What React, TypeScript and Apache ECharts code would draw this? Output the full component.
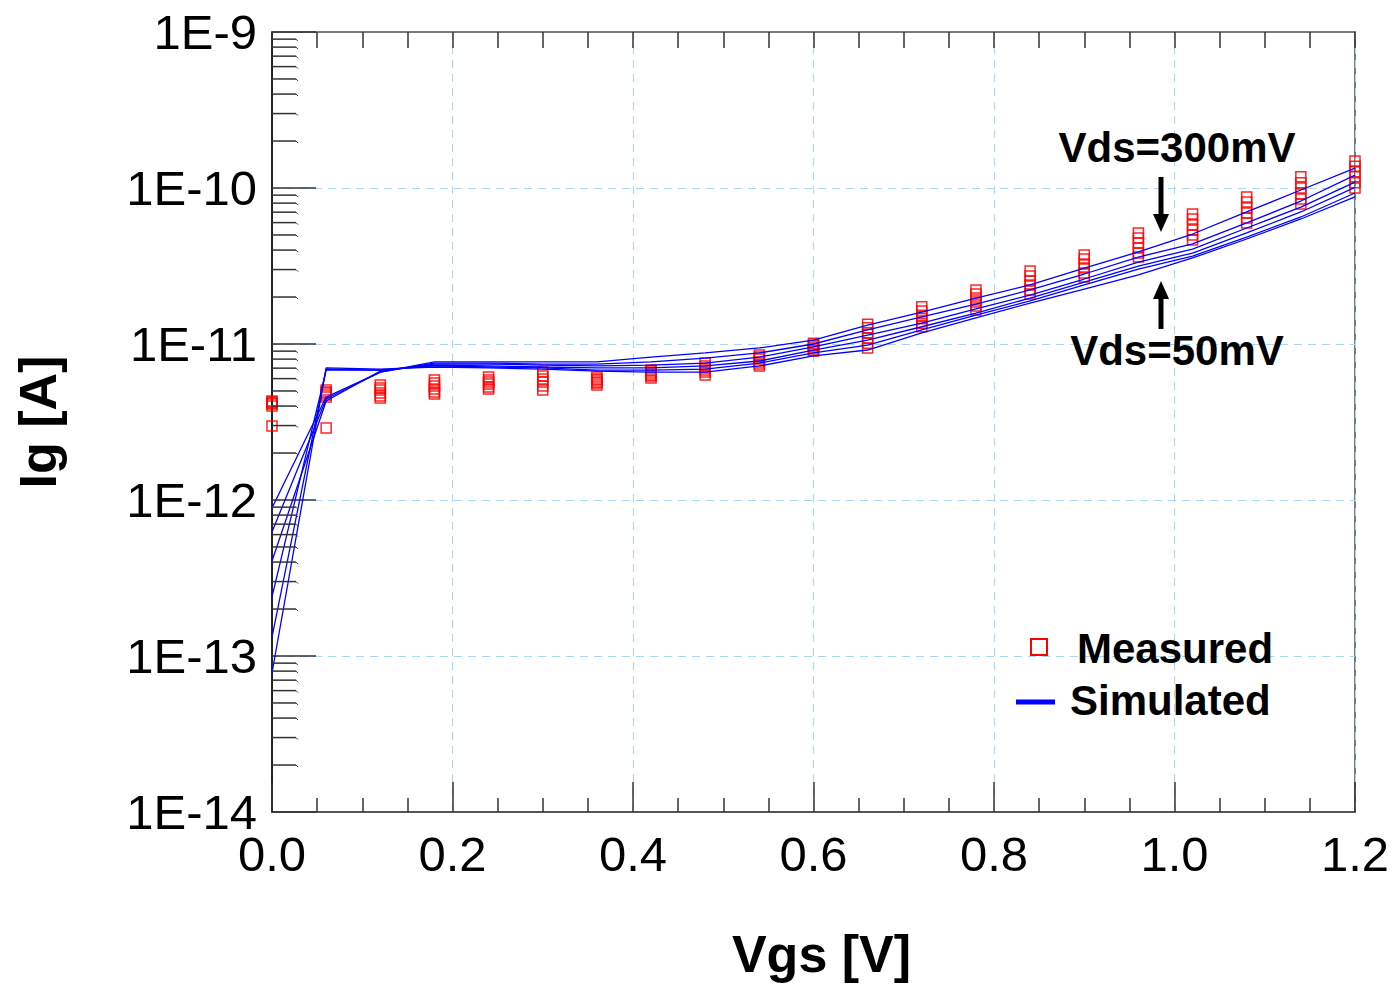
import React, { useEffect, useRef } from "react";
import * as echarts from "echarts";

// Gate voltage sweep (V)
const vgs = [0, 0.06, 0.12, 0.18, 0.24, 0.3, 0.36, 0.42, 0.48, 0.54, 0.6, 0.66, 0.72, 0.78, 0.84, 0.9, 0.96, 1.02, 1.08, 1.14, 1.2];

// Simulated gate current (A), Vds = 300 ... 50 mV
const sim300 = [8.89e-13, 4.57e-12, 6.61e-12, 7.67e-12, 7.67e-12, 7.67e-12, 7.67e-12, 8.25e-12, 8.76e-12, 9.43e-12, 1.06e-11, 1.32e-11, 1.6e-11, 1.97e-11, 2.39e-11, 3.07e-11, 3.89e-11, 5.07e-11, 7.02e-11, 9.71e-11, 1.34e-10];
const sim250 = [6.24e-13, 4.44e-12, 6.61e-12, 7.55e-12, 7.55e-12, 7.44e-12, 7.44e-12, 7.67e-12, 8.13e-12, 8.76e-12, 1.0e-11, 1.23e-11, 1.49e-11, 1.8e-11, 2.22e-11, 2.81e-11, 3.61e-11, 4.38e-11, 5.97e-11, 8.25e-11, 1.21e-10];
const sim200 = [4.06e-13, 4.31e-12, 6.71e-12, 7.44e-12, 7.44e-12, 7.33e-12, 7.23e-12, 7.33e-12, 7.55e-12, 8.25e-12, 9.57e-12, 1.14e-11, 1.36e-11, 1.68e-11, 2.06e-11, 2.61e-11, 3.35e-11, 4.06e-11, 5.54e-11, 7.55e-11, 1.09e-10];
const sim150 = [2.39e-13, 6.81e-12, 6.81e-12, 7.33e-12, 7.23e-12, 7.12e-12, 7.02e-12, 7.02e-12, 7.23e-12, 7.78e-12, 9.15e-12, 1.06e-11, 1.29e-11, 1.58e-11, 1.97e-11, 2.49e-11, 3.16e-11, 3.83e-11, 5.15e-11, 7.02e-11, 1.01e-10];
const sim100 = [1.32e-13, 6.91e-12, 6.81e-12, 7.23e-12, 7.12e-12, 7.02e-12, 6.81e-12, 6.81e-12, 6.91e-12, 7.55e-12, 8.76e-12, 9.85e-12, 1.23e-11, 1.53e-11, 1.89e-11, 2.39e-11, 3.02e-11, 3.66e-11, 4.85e-11, 6.52e-11, 9.29e-11];
const sim50 = [7.78e-14, 7.02e-12, 6.91e-12, 7.12e-12, 7.02e-12, 6.91e-12, 6.71e-12, 6.61e-12, 6.61e-12, 7.23e-12, 8.38e-12, 9.15e-12, 1.18e-11, 1.47e-11, 1.83e-11, 2.25e-11, 2.77e-11, 3.56e-11, 4.71e-11, 6.33e-11, 8.76e-11];

// Measured gate current (A)
const meas1 = [4.31e-12, 5.07e-12, 5.46e-12, 5.88e-12, 6.14e-12, 6.61e-12, 6.14e-12, 6.81e-12, 7.55e-12, 8.5e-12, 1.01e-11, 1.34e-11, 1.73e-11, 2.22e-11, 2.94e-11, 3.72e-11, 5.15e-11, 6.81e-11, 8.76e-11, 1.18e-10, 1.49e-10];
const meas2 = [4.25e-12, 4.92e-12, 5.22e-12, 5.62e-12, 5.88e-12, 6.24e-12, 5.97e-12, 6.71e-12, 7.23e-12, 8.25e-12, 9.85e-12, 1.27e-11, 1.63e-11, 2.09e-11, 2.73e-11, 3.51e-11, 4.78e-11, 6.33e-11, 8.13e-11, 1.08e-10, 1.38e-10];
const meas3 = [4.19e-12, 4.85e-12, 5.07e-12, 5.38e-12, 5.71e-12, 5.97e-12, 5.88e-12, 6.52e-12, 7.02e-12, 8.01e-12, 9.71e-12, 1.18e-11, 1.53e-11, 1.97e-11, 2.53e-11, 3.26e-11, 4.44e-11, 5.79e-11, 7.44e-11, 1.0e-10, 1.27e-10];
const meas4 = [4.13e-12, 4.71e-12, 4.85e-12, 5.15e-12, 5.54e-12, 5.71e-12, 5.71e-12, 6.33e-12, 6.81e-12, 7.67e-12, 9.43e-12, 1.09e-11, 1.45e-11, 1.86e-11, 2.39e-11, 3.07e-11, 4.12e-11, 5.38e-11, 6.91e-11, 9.15e-11, 1.18e-10];
const meas5 = [4.0e-12, 4.57e-12, 4.64e-12, 4.92e-12, 5.3e-12, 5.38e-12, 5.62e-12, 6.24e-12, 6.61e-12, 7.44e-12, 9.15e-12, 1.01e-11, 1.36e-11, 1.75e-11, 2.22e-11, 2.85e-11, 3.83e-11, 5.0e-11, 6.42e-11, 8.5e-11, 1.08e-10];
const meas6 = [2.98e-12, 2.89e-12, 4.51e-12, 4.78e-12, 5.15e-12, 5.07e-12, 5.46e-12, 6.05e-12, 6.33e-12, 7.23e-12, 9.02e-12, 9.43e-12, 1.29e-11, 1.65e-11, 2.09e-11, 2.69e-11, 3.61e-11, 4.64e-11, 5.97e-11, 7.9e-11, 1.0e-10];

const simulated = [sim300, sim250, sim200, sim150, sim100, sim50];
const measured = [meas1, meas2, meas3, meas4, meas5, meas6];

// Log-axis minor tick positions (mantissas within each decade)
const minorMantissas = [2, 3, 4, 5, 6, 7, 8, 9];
const decadeExponents = [-14, -13, -12, -11, -10];
const xTickLabels = ["0.0", "0.2", "0.4", "0.6", "0.8", "1.0", "1.2"];

const FONT = '"Liberation Sans", Arial, Helvetica, sans-serif';
const GRID_BLUE = "#a6d8f3";

export default function App() {
  const ref = useRef<HTMLDivElement>(null);

  useEffect(() => {
    if (!ref.current) return;
    const chart = echarts.init(ref.current, undefined, { renderer: "svg" });

    const minorTicks: number[][] = [];
    decadeExponents.forEach((e) =>
      minorMantissas.forEach((m) => minorTicks.push([0, m * Math.pow(10, e)]))
    );

    const pair = (arr: number[]) => arr.map((v, i) => [vgs[i], v]);

    const series: any[] = [];
    measured.forEach((arr) => {
      series.push({
        type: "scatter",
        name: "Measured",
        data: pair(arr),
        symbol: "rect",
        symbolSize: 10,
        itemStyle: { color: "none", borderColor: "#ff0000", borderWidth: 1.5, opacity: 0.85 },
        z: 3,
      });
    });
    simulated.forEach((arr) => {
      series.push({
        type: "line",
        name: "Simulated",
        data: pair(arr),
        showSymbol: false,
        symbol: "none",
        lineStyle: { color: "#0000ff", width: 1.3 },
        z: 4,
      });
    });
    series.push({
      type: "custom",
      name: "minorTicks",
      silent: true,
      clip: false,
      z: 5,
      data: minorTicks,
      renderItem: (params: any, api: any) => {
        const p = api.coord([0, api.value(1)]);
        return {
          type: "group",
          children: [
            { type: "line", shape: { x1: p[0], y1: p[1], x2: p[0] + 24, y2: p[1] }, style: { stroke: "#333", lineWidth: 1.5 } },
            { type: "line", shape: { x1: p[0] + 24, y1: p[1], x2: p[0] + 26, y2: p[1] + 2 }, style: { stroke: "#333", lineWidth: 1 } },
          ],
        };
      },
    });

    const arrowX = 1161;
    const option: any = {
      animation: false,
      backgroundColor: "#ffffff",
      grid: { left: 272, right: 40, top: 32, bottom: 178, show: true, borderColor: "#7a7a7a", borderWidth: 2, backgroundColor: "transparent" },
      xAxis: [
        {
          type: "value",
          min: 0,
          max: 1.2,
          interval: 0.2,
          name: "Vgs [V]",
          nameLocation: "middle",
          nameGap: 116,
          nameTextStyle: { fontFamily: FONT, fontSize: 52, fontWeight: "bold", color: "#000", padding: [0, 0, 0, 16] },
          axisLine: { show: true, lineStyle: { color: "#555", width: 2 } },
          axisTick: { show: true, inside: true, length: 30, lineStyle: { color: "#333", width: 1.5 } },
          minorTick: { show: true, splitNumber: 4, length: 14, lineStyle: { color: "#333", width: 1.5 } },
          axisLabel: {
            fontFamily: FONT,
            fontSize: 49,
            color: "#000",
            margin: 17,
            formatter: (v: number) => xTickLabels[Math.round(v / 0.2)] ?? v.toFixed(1),
          },
          splitLine: { show: true, lineStyle: { color: GRID_BLUE, type: [8, 6], width: 1 } },
        },
        {
          type: "value",
          position: "top",
          min: 0,
          max: 1.2,
          interval: 0.2,
          axisLine: { show: true, lineStyle: { color: "#7a7a7a", width: 2 } },
          axisTick: { show: true, inside: true, length: 16, lineStyle: { color: "#333", width: 1.5 } },
          minorTick: { show: true, splitNumber: 4, length: 16, lineStyle: { color: "#333", width: 1.5 } },
          axisLabel: { show: false },
          splitLine: { show: false },
        },
      ],
      yAxis: {
        type: "log",
        logBase: 10,
        min: 1e-14,
        max: 1e-9,
        splitNumber: 5,
        name: "Ig [A]",
        nameLocation: "middle",
        nameGap: 208,
        nameTextStyle: { fontFamily: FONT, fontSize: 52, fontWeight: "bold", color: "#000" },
        axisLine: { show: true, lineStyle: { color: "#222", width: 2 } },
        axisTick: { show: true, inside: true, length: 44, lineStyle: { color: "#333", width: 1.5 } },
        axisLabel: {
          fontFamily: FONT,
          fontSize: 49,
          color: "#000",
          margin: 15,
          formatter: (v: number) => "1E" + Math.round(Math.log10(v)),
        },
        splitLine: { show: true, lineStyle: { color: GRID_BLUE, type: [8, 6], width: 1 } },
      },
      series,
      graphic: [
        { type: "text", x: 1177, y: 147, style: { text: "Vds=300mV", fontFamily: FONT, fontSize: 42, fontWeight: "bold", fill: "#000", align: "center", verticalAlign: "middle" }, z: 10 },
        { type: "text", x: 1177, y: 350, style: { text: "Vds=50mV", fontFamily: FONT, fontSize: 42, fontWeight: "bold", fill: "#000", align: "center", verticalAlign: "middle" }, z: 10 },
        { type: "line", shape: { x1: arrowX, y1: 177, x2: arrowX, y2: 216 }, style: { stroke: "#000", lineWidth: 5 }, z: 10 },
        { type: "polygon", shape: { points: [[arrowX - 8, 214], [arrowX + 8, 214], [arrowX, 232]] }, style: { fill: "#000" }, z: 10 },
        { type: "line", shape: { x1: arrowX, y1: 296, x2: arrowX, y2: 329 }, style: { stroke: "#000", lineWidth: 5 }, z: 10 },
        { type: "polygon", shape: { points: [[arrowX - 8, 299], [arrowX + 8, 299], [arrowX, 281]] }, style: { fill: "#000" }, z: 10 },
        { type: "rect", shape: { x: 1031, y: 639, width: 16, height: 16 }, style: { fill: "none", stroke: "#ff0000", lineWidth: 2 }, z: 10 },
        { type: "text", x: 1077, y: 648, style: { text: "Measured", fontFamily: FONT, fontSize: 42, fontWeight: "bold", fill: "#000", align: "left", verticalAlign: "middle" }, z: 10 },
        { type: "line", shape: { x1: 1016, y1: 702, x2: 1055, y2: 702 }, style: { stroke: "#0000ff", lineWidth: 5 }, z: 10 },
        { type: "text", x: 1070, y: 700, style: { text: "Simulated", fontFamily: FONT, fontSize: 42, fontWeight: "bold", fill: "#000", align: "left", verticalAlign: "middle" }, z: 10 },
      ],
    };

    chart.setOption(option);
    return () => chart.dispose();
  }, []);

  return <div ref={ref} style={{ position: "absolute", left: 0, top: 0, width: 1395, height: 990 }} />;
}
